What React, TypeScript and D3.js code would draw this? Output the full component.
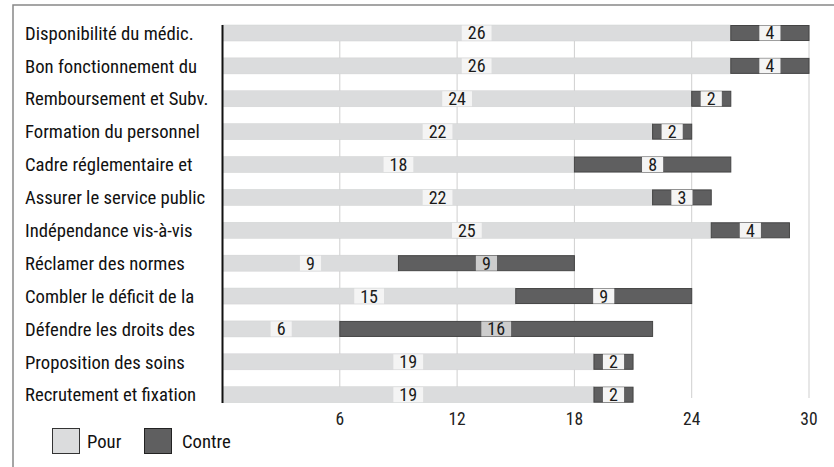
import React from "react";
import * as d3 from "d3";

const categories = [
  "Disponibilité du médic.",
  "Bon fonctionnement du",
  "Remboursement et Subv.",
  "Formation du personnel",
  "Cadre réglementaire et",
  "Assurer le service public",
  "Indépendance vis-à-vis",
  "Réclamer des normes",
  "Combler le déficit de la",
  "Défendre les droits des",
  "Proposition des soins",
  "Recrutement et fixation",
];
const pour = [26, 26, 24, 22, 18, 22, 25, 9, 15, 6, 19, 19];
const contre = [4, 4, 2, 2, 8, 3, 4, 9, 9, 16, 2, 2];
const ticks = [6, 12, 18, 24, 30];
const seriesNames = ["Pour", "Contre"];
const grayLabelRows = [7, 9];

const W = 834;
const H = 467;
const FONT = "'Roboto Condensed', Roboto, sans-serif";
const POUR_FILL = "#dbdcdd";
const POUR_STROKE = "#d0d1d2";
const CONTRE_FILL = "#5f5f60";
const CONTRE_STROKE = "#444";

function textWidth(s: string, size: number) {
  return s.length * size * 0.48;
}

export default function App() {
  const x = d3.scaleLinear().domain([0, 30]).range([222.5, 809]);
  const y = d3
    .scaleBand<string>()
    .domain(categories)
    .range([25, 402.7])
    .paddingInner(0.513)
    .paddingOuter(0);
  const bh = y.bandwidth();

  const labelBox = (cx: number, yy: number, v: number, bg: string, key: string) => {
    const s = String(v);
    const w = textWidth(s, 18) + 12.5;
    return (
      <g key={key}>
        <rect x={cx - w / 2} y={yy + 0.5} width={w} height={bh - 1} fill={bg} />
        <text
          x={cx}
          y={yy + bh / 2}
          dy="0.36em"
          textAnchor="middle"
          fontSize={18}
          fontFamily={FONT}
          fill="#1a1a1a"
        >
          {s}
        </text>
      </g>
    );
  };

  return (
    <svg width={W} height={H} style={{ position: "absolute", left: 0, top: 0, background: "#fff" }}>
      <rect x={13} y={5} width={W} height={H} fill="#fff" stroke="#888" strokeWidth={1.5} />
      {ticks.map((t) => (
        <line key={"g" + t} x1={x(t)} x2={x(t)} y1={25} y2={398} stroke="#cfcfcf" strokeWidth={1} />
      ))}
      {categories.map((c, i) => {
        const yy = y(c)!;
        const p = pour[i];
        const k = contre[i];
        return (
          <g key={c}>
            <rect x={x(0)} y={yy} width={x(p) - x(0)} height={bh} fill={POUR_FILL} stroke={POUR_STROKE} strokeWidth={0.5} />
            <rect x={x(p)} y={yy + 0.5} width={x(p + k) - x(p)} height={bh - 1} fill={CONTRE_FILL} stroke={CONTRE_STROKE} strokeWidth={1} />
            {labelBox((x(0) + x(p)) / 2, yy, p, "#f4f4f4", "lp")}
            {labelBox((x(p) + x(p + k)) / 2, yy, k, grayLabelRows.includes(i) ? "#cdcdcd" : "#f4f4f4", "lk")}
          </g>
        );
      })}
      <line x1={222.5} x2={222.5} y1={25} y2={403} stroke="#111" strokeWidth={2} />
      {categories.map((c) => (
        <text
          key={"l" + c}
          x={25}
          y={y(c)! + bh / 2}
          dy="0.36em"
          fontSize={18.7}
          fontFamily={FONT}
          fill="#111"
        >
          {c}
        </text>
      ))}
      {ticks.map((t) => (
        <text key={"t" + t} x={x(t)} y={419} dy="0.36em" textAnchor="middle" fontSize={17.5} fontFamily={FONT} fill="#222">
          {t}
        </text>
      ))}
      <rect x={52.5} y={428.5} width={27} height={25} fill={POUR_FILL} stroke="#333" strokeWidth={1} />
      <text x={87} y={441} dy="0.36em" fontSize={18.7} fontFamily={FONT} fill="#111">
        {seriesNames[0]}
      </text>
      <rect x={144.5} y={428.5} width={27} height={25} fill={CONTRE_FILL} stroke="#222" strokeWidth={1} />
      <text x={182} y={441} dy="0.36em" fontSize={18.7} fontFamily={FONT} fill="#111">
        {seriesNames[1]}
      </text>
    </svg>
  );
}
